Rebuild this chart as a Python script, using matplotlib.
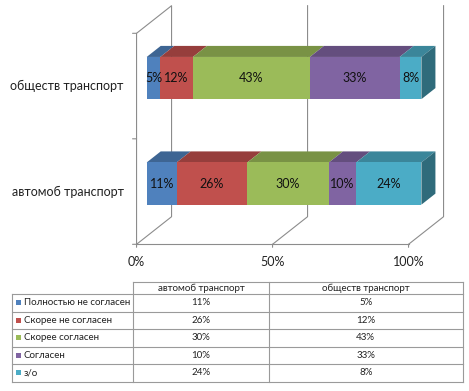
import matplotlib.pyplot as plt
import numpy as np
from matplotlib.patches import Polygon

plt.rcParams['font.family'] = ['Lato', 'DejaVu Sans']

# data
categories = ["автомоб транспорт", "обществ транспорт"]
series = ["Полностью не согласен", "Скорее не согласен", "Скорее согласен", "Согласен", "з/о"]
values = np.array([
    [11, 5],
    [26, 12],
    [30, 43],
    [10, 33],
    [24, 8],
])
x_ticks = [0, 50, 100]
x_tick_labels = ["0%", "50%", "100%"]

colors = ["#4F81BD", "#C0504D", "#9BBB59", "#8064A2", "#4BACC6"]
grid_col = "#8C8C8C"


def shade(c, f):
    r, g, b = [int(c[i:i + 2], 16) / 255 for i in (1, 3, 5)]
    return (r * f, g * f, b * f)


W, H = 469, 391
fig = plt.figure(figsize=(W / 100, H / 100), dpi=100)

# table axes, pixel coordinates
tab = fig.add_axes([0, 0, 1, 1])
tab.set_xlim(0, W)
tab.set_ylim(H, 0)
tab.axis("off")

# chart axes: front plane of the bars
ax = fig.add_axes([146.7 / W, 1 - 236.3 / H, 272 / W, 211 / H])
ax.set_xlim(0, 100)
ax.set_ylim(-0.5, 1.5)
ax.axis("off")
ax.patch.set_alpha(0)

# depth vector (data units) and depth range
Dx, Dy = 12.87, 0.2616
d_front, d_back = -0.29, 0.71
bar_d = 0.4
bar_h = 0.4
fs = 9.0


def P(x, y, d):
    return (x + d * Dx, y + d * Dy)


lw = 0.8
y0, y1 = -0.5, 1.5
# left side wall
pts = [P(0, y0, d_front), P(0, y1, d_front), P(0, y1, d_back), P(0, y0, d_back), P(0, y0, d_front)]
ax.plot(*zip(*pts), color=grid_col, lw=lw, clip_on=False, zorder=1)
# front floor edge
ax.plot(*zip(P(0, y0, d_front), P(100, y0, d_front)), color=grid_col, lw=lw, clip_on=False, zorder=1)
# gridlines on back wall and floor
for t in x_ticks[1:]:
    pts = [P(t, y1, d_back), P(t, y0, d_back), P(t, y0, d_front)]
    ax.plot(*zip(*pts), color=grid_col, lw=lw, clip_on=False, zorder=1)

# ticks and tick labels
for t, lab in zip(x_ticks, x_tick_labels):
    xx, yy = P(t, y0, d_front)
    ax.annotate("", xy=(xx, yy), xytext=(0, -3), textcoords="offset pixels", annotation_clip=False,
                arrowprops=dict(arrowstyle="-", color=grid_col, lw=lw, shrinkA=0, shrinkB=0))
    ax.annotate(lab, xy=(xx, yy), xytext=(0, -18), textcoords="offset pixels", annotation_clip=False,
                ha="center", va="center", fontsize=fs, color="#222222")
for yt in [-0.5, 0.5, 1.5]:
    xx, yy = P(0, yt, d_front)
    ax.annotate("", xy=(xx, yy), xytext=(-4, 0), textcoords="offset pixels", annotation_clip=False,
                arrowprops=dict(arrowstyle="-", color=grid_col, lw=lw, shrinkA=0, shrinkB=0))

# category labels
for i, cat in enumerate(categories):
    xx, yy = P(0, i, d_front)
    ax.annotate(cat, xy=(xx, yy), xytext=(-13, 0), textcoords="offset pixels", annotation_clip=False,
                ha="right", va="center", fontsize=fs, color="#222222")

# bars
for i in range(len(categories)):
    left = 0
    yb, yt = i - bar_h / 2, i + bar_h / 2
    for s in range(len(series)):
        v = values[s, i]
        right = left + v
        # top face
        top = [P(left, yt, 0), P(right, yt, 0), P(right, yt, bar_d), P(left, yt, bar_d)]
        ax.add_patch(Polygon(top, closed=True, fc=shade(colors[s], 0.78), ec="none", clip_on=False, zorder=2))
        # front face
        front = [P(left, yb, 0), P(right, yb, 0), P(right, yt, 0), P(left, yt, 0)]
        ax.add_patch(Polygon(front, closed=True, fc=colors[s], ec="none", clip_on=False, zorder=2))
        ax.text(left + v / 2, i, f"{v}%", ha="center", va="center", fontsize=fs, color="#111111", zorder=3)
        left = right
    # right side face
    side = [P(left, yb, 0), P(left, yb, bar_d), P(left, yt, bar_d), P(left, yt, 0)]
    ax.add_patch(Polygon(side, closed=True, fc=shade(colors[-1], 0.62), ec="none", clip_on=False, zorder=2))

# data table
tcol = "#9A9A9A"
x_l, x_c1, x_c2, x_r = 11.7, 133.3, 268.7, 462.7
y_head, y_body = 282, 294
row_h = 17.55
n = len(series)
y_end = y_body + n * row_h
tab.plot([x_c1, x_r], [y_head, y_head], color=tcol, lw=0.8)
for yy in [y_body + k * row_h for k in range(n + 1)]:
    tab.plot([x_l, x_r], [yy, yy], color=tcol, lw=0.8)
for xx in [x_c1, x_c2, x_r]:
    tab.plot([xx, xx], [y_head, y_end], color=tcol, lw=0.8)
tab.plot([x_l, x_l], [y_body, y_end], color=tcol, lw=0.8)

fs_t = 7.0
col_cx = [(x_c1 + x_c2) / 2, (x_c2 + x_r) / 2]
for j, cat in enumerate(categories):
    tab.text(col_cx[j], (y_head + y_body) / 2 + 0.5, cat, ha="center", va="center", fontsize=fs_t, color="#222222")
for s, name in enumerate(series):
    yc = y_body + (s + 0.5) * row_h
    tab.add_patch(plt.Rectangle((15.5, yc - 2.5), 5, 5, fc=colors[s], ec="none"))
    tab.text(24, yc, name, ha="left", va="center", fontsize=fs_t, color="#222222")
    for j in range(len(categories)):
        tab.text(col_cx[j], yc, f"{values[s, j]}%", ha="center", va="center", fontsize=fs_t, color="#222222")

fig.savefig("out.png", dpi=100)
